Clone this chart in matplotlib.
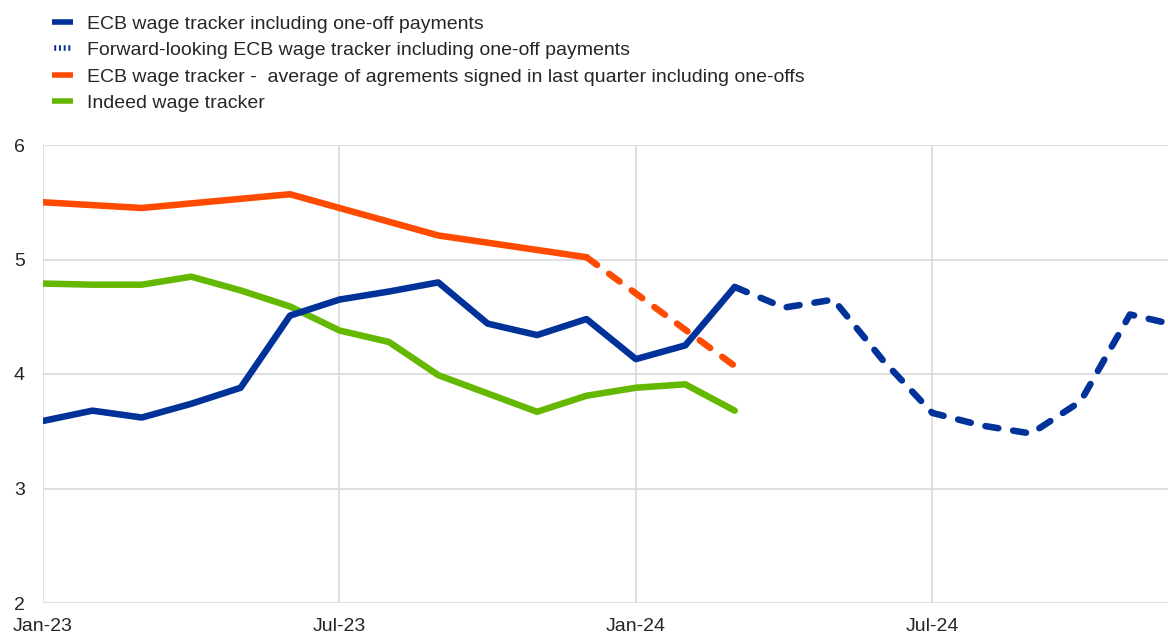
import numpy as np
import matplotlib
matplotlib.use('Agg')
import matplotlib.pyplot as plt
from matplotlib.lines import Line2D
import pandas as pd

plt.rcParams['font.family'] = ['Liberation Sans', 'DejaVu Sans']

# ── Données ─────────────────────────────────────────────
mois_ecb = pd.date_range("2023-01-01", "2024-03-01", freq="MS")
ecb = [3.59, 3.68, 3.62, 3.74, 3.88, 4.51, 4.65, 4.72, 4.80, 4.44, 4.34, 4.48,
       4.13, 4.25, 4.76]

mois_fwd = pd.date_range("2024-03-01", "2024-12-01", freq="MS")
fwd = [4.76, 4.58, 4.65, 4.12, 3.66, 3.55, 3.48, 3.76, 4.52, 4.42]

mois_agr = pd.to_datetime(["2023-01-01", "2023-03-01", "2023-06-01",
                           "2023-09-01", "2023-12-01"])
agr = [5.50, 5.45, 5.57, 5.21, 5.02]
mois_agr_fwd = pd.to_datetime(["2023-12-01", "2024-03-01"])
agr_fwd = [5.02, 4.07]

mois_indeed = pd.date_range("2023-01-01", "2024-03-01", freq="MS")
indeed = [4.79, 4.78, 4.78, 4.85, 4.73, 4.59, 4.38, 4.28, 3.99, 3.83, 3.67, 3.81,
          3.88, 3.91, 3.68]

ticks_x = pd.to_datetime(["2023-01-01", "2023-07-01", "2024-01-01", "2024-07-01"])
ticks_y = [2, 3, 4, 5, 6]

labels = ["ECB wage tracker including one-off payments",
          "Forward-looking ECB wage tracker including one-off payments",
          "ECB wage tracker -  average of agrements signed in last quarter including one-offs",
          "Indeed wage tracker"]

BLEU, ORANGE, VERT = "#003299", "#FF4B00", "#65B800"
GRIS = "#D9D9D9"


def idx(dates):
    # axe catégoriel mensuel : un pas = un mois
    d = pd.DatetimeIndex(dates)
    return (d.year - 2023) * 12 + d.month - 1


# ── Figure ──────────────────────────────────────────────
fig = plt.figure(figsize=(11.68, 6.36), dpi=100)
ax = fig.add_axes([43/1168, 33/636, 1125/1168, 458/636])

lw = 4.7
tirets = (0, (2.0, 2.3))
ax.plot(idx(mois_agr), agr, color=ORANGE, lw=lw, solid_capstyle="round",
        solid_joinstyle="round", zorder=3)
ax.plot(idx(mois_agr_fwd), agr_fwd, color=ORANGE, lw=lw, ls=tirets,
        dash_capstyle="round", zorder=3)
ax.plot(idx(mois_indeed), indeed, color=VERT, lw=lw, solid_capstyle="round",
        solid_joinstyle="round", zorder=3)
ax.plot(idx(mois_ecb), ecb, color=BLEU, lw=lw, solid_capstyle="round",
        solid_joinstyle="round", zorder=4)
ax.plot(idx(mois_fwd), fwd, color=BLEU, lw=lw, ls=tirets,
        dash_capstyle="round", dash_joinstyle="round", zorder=4)

ax.set_xlim(0, 22.77)
ax.set_ylim(2, 6)
ax.set_yticks(ticks_y)
ax.set_xticks(idx(ticks_x))
ax.set_xticklabels([d.strftime("%b-%y") for d in ticks_x])
ax.grid(True, color=GRIS, lw=1.2, zorder=0)
ax.set_axisbelow(True)
for s in ax.spines.values():
    s.set_visible(False)
ax.tick_params(axis="both", length=0, labelsize=14, colors="#262626")
ax.tick_params(axis="y", pad=13)
ax.tick_params(axis="x", pad=11)

handles = [Line2D([], [], color=BLEU, lw=4, solid_capstyle="butt"),
           Line2D([], [], color=BLEU, lw=4, ls=(3, (0.35, 0.5)), dash_capstyle="butt"),
           Line2D([], [], color=ORANGE, lw=4, solid_capstyle="butt"),
           Line2D([], [], color=VERT, lw=4, solid_capstyle="butt")]
leg = fig.legend(handles, labels, loc="upper left", bbox_to_anchor=(46/1168, 1 - 9.5/636),
                 frameon=False, fontsize=14, handlelength=1.08, handletextpad=0.72,
                 labelspacing=0.45, borderaxespad=0, borderpad=0.3)
for t in leg.get_texts():
    t.set_color("#262626")

plt.savefig("out.png", dpi=100)
plt.close()
